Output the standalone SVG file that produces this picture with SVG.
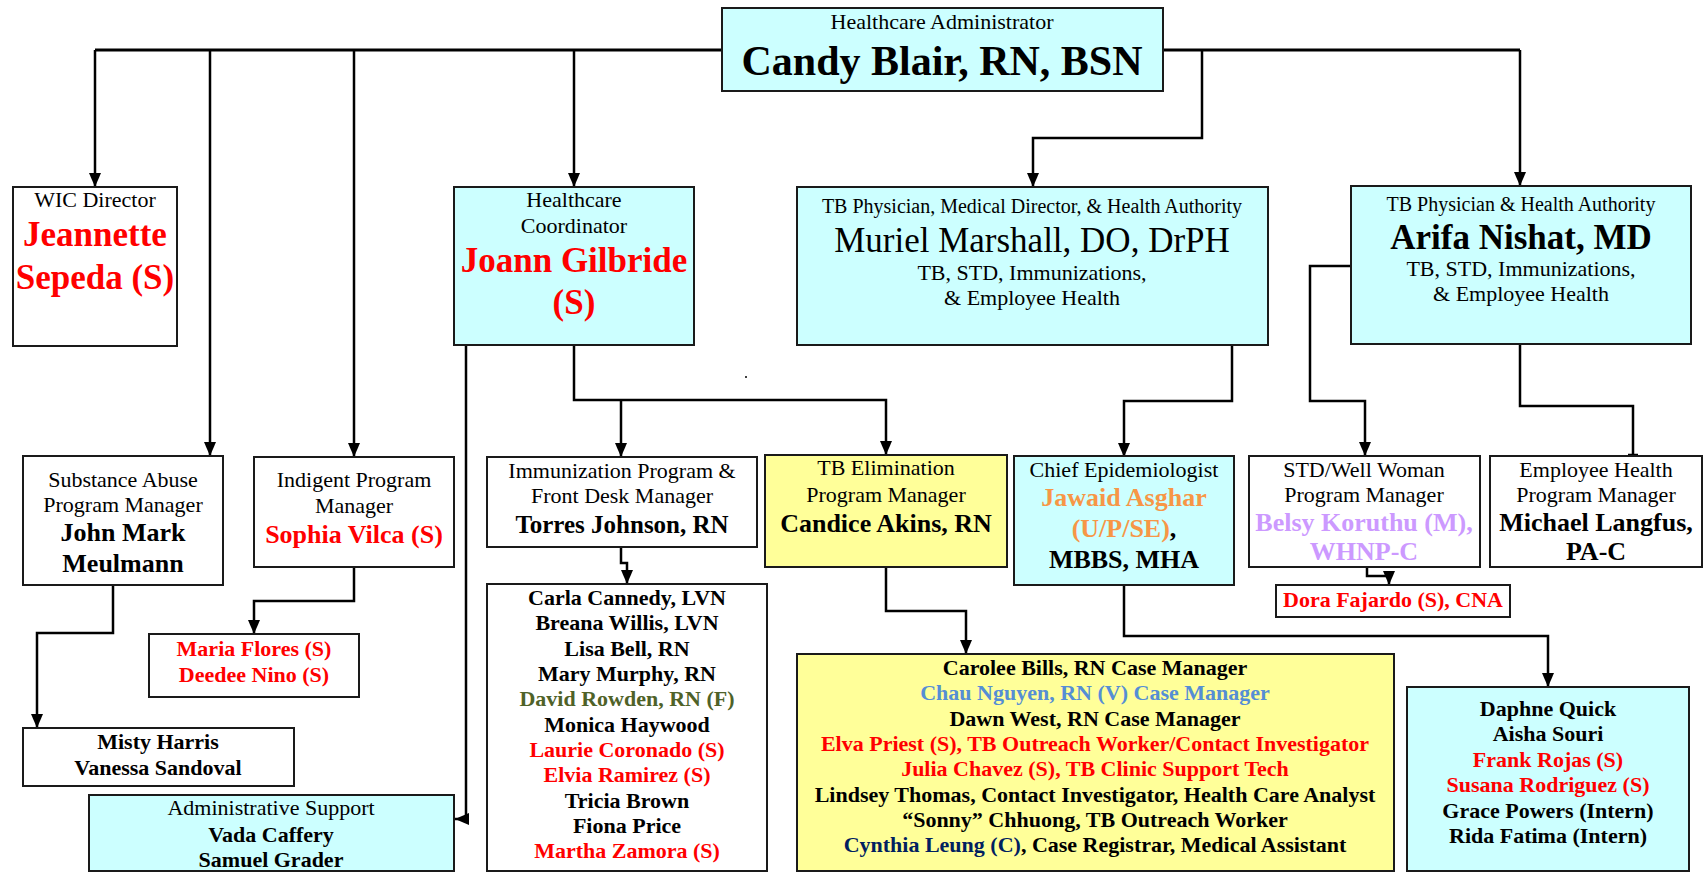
<svg xmlns="http://www.w3.org/2000/svg" width="1708" height="873" viewBox="0 0 1708 873">
<style>
.box{stroke:#1a1a1a;stroke-width:2;}
.w{fill:#ffffff;}
.c{fill:#ccffff;}
.y{fill:#ffff99;}
text{font-family:"Liberation Serif","Times New Roman",serif;text-anchor:middle;fill:#000;}
.t{font-size:22px;}
.t20{font-size:20px;}
.b{font-weight:bold;}
.b22{font-size:22px;font-weight:bold;}
.b26{font-size:26px;font-weight:bold;}
.b35{font-size:35px;font-weight:bold;}
.red{fill:#ff0000;}
.conn{fill:none;stroke:#000;stroke-width:2.5;}
</style>
<defs>
<marker id="ah" markerWidth="14" markerHeight="12" refX="14" refY="6" orient="auto" markerUnits="userSpaceOnUse"><path d="M0,0 L14,6 L0,12 z" fill="#000"/></marker>
</defs>
<rect width="1708" height="873" fill="#fff"/>

<g id="connectors">
<path class="conn" style="stroke-width:3" d="M722,50 H95"/>
<path class="conn" style="stroke-width:3" d="M1163,50 H1520"/>
<path class="conn" d="M95,50 V187" marker-end="url(#ah)"/>
<path class="conn" d="M210,50 V456" marker-end="url(#ah)"/>
<path class="conn" d="M354,50 V457" marker-end="url(#ah)"/>
<path class="conn" d="M574,50 V187" marker-end="url(#ah)"/>
<path class="conn" d="M1202,50 V138 H1033 V187" marker-end="url(#ah)"/>
<path class="conn" d="M1520,50 V186" marker-end="url(#ah)"/>
<path class="conn" d="M466,345 V819 H455" marker-end="url(#ah)"/>
<path class="conn" d="M574,345 V400 H886 V455" marker-end="url(#ah)"/>
<path class="conn" d="M621,400 V457" marker-end="url(#ah)"/>
<path class="conn" d="M621,547 V563 H627 V584" marker-end="url(#ah)"/>
<path class="conn" d="M886,567 V611 H966 V654" marker-end="url(#ah)"/>
<path class="conn" d="M1232,345 V401 H1124 V457" marker-end="url(#ah)"/>
<path class="conn" d="M1124,585 V636 H1548 V687" marker-end="url(#ah)"/>
<path class="conn" d="M1351,266 H1310 V401 H1365 V456" marker-end="url(#ah)"/>
<path class="conn" d="M1520,344 V406 H1633 V456"/>
<path class="conn" d="M1628,455 H1638"/>
<path class="conn" d="M1367,567 V576 H1389 V585" marker-end="url(#ah)"/>
<path class="conn" d="M113,585 V633 H37 V728" marker-end="url(#ah)"/>
<path class="conn" d="M354,567 V601 H254 V634" marker-end="url(#ah)"/>
<circle cx="746" cy="377" r="1" fill="#000"/>
</g>

<g id="administrator">
<rect class="box c" x="722" y="8" width="441" height="83"/>
<text class="t" x="942" y="29">Healthcare Administrator</text>
<text class="b" style="font-size:42px" x="942" y="75">Candy Blair, RN, BSN</text>
</g>

<g id="wic">
<rect class="box w" x="13" y="187" width="164" height="159"/>
<text class="t" x="95" y="207">WIC Director</text>
<text class="b35 red" x="95" y="246">Jeannette</text>
<text class="b35 red" x="95" y="289">Sepeda (S)</text>
</g>

<g id="coordinator">
<rect class="box c" x="454" y="187" width="240" height="158"/>
<text class="t" x="574" y="207">Healthcare</text>
<text class="t" x="574" y="233">Coordinator</text>
<text class="b35 red" x="574" y="272">Joann Gilbride</text>
<text class="b35 red" x="574" y="314">(S)</text>
</g>

<g id="marshall">
<rect class="box c" x="797" y="187" width="471" height="158"/>
<text class="t20" x="1032" y="213">TB Physician, Medical Director, &amp; Health Authority</text>
<text style="font-size:35px" x="1032" y="252">Muriel Marshall, DO, DrPH</text>
<text class="t" x="1032" y="280">TB, STD, Immunizations,</text>
<text class="t" x="1032" y="305">&amp; Employee Health</text>
</g>

<g id="nishat">
<rect class="box c" x="1351" y="186" width="340" height="158"/>
<text class="t20" x="1521" y="211">TB Physician &amp; Health Authority</text>
<text class="b35" x="1521" y="249">Arifa Nishat, MD</text>
<text class="t" x="1521" y="276">TB, STD, Immunizations,</text>
<text class="t" x="1521" y="301">&amp; Employee Health</text>
</g>

<g id="substance">
<rect class="box w" x="23" y="456" width="200" height="129"/>
<text class="t" x="123" y="487">Substance Abuse</text>
<text class="t" x="123" y="512">Program Manager</text>
<text class="b26" x="123" y="541">John Mark</text>
<text class="b26" x="123" y="572">Meulmann</text>
</g>

<g id="indigent">
<rect class="box w" x="254" y="457" width="200" height="110"/>
<text class="t" x="354" y="487">Indigent Program</text>
<text class="t" x="354" y="513">Manager</text>
<text class="b26 red" x="354" y="543">Sophia Vilca (S)</text>
</g>

<g id="immunization">
<rect class="box w" x="487" y="457" width="270" height="90"/>
<text class="t" x="622" y="478">Immunization Program &amp;</text>
<text class="t" x="622" y="503">Front Desk Manager</text>
<text class="b" style="font-size:25px" x="622" y="533">Torres Johnson, RN</text>
</g>

<g id="tb-elimination">
<rect class="box y" x="765" y="455" width="242" height="112"/>
<text class="t" x="886" y="475">TB Elimination</text>
<text class="t" x="886" y="502">Program Manager</text>
<text class="b26" x="886" y="532">Candice Akins, RN</text>
</g>

<g id="epidemiologist">
<rect class="box c" x="1014" y="456" width="220" height="129"/>
<text class="t" x="1124" y="477">Chief Epidemiologist</text>
<text class="b26" style="fill:#f79646" x="1124" y="506">Jawaid Asghar</text>
<text class="b26" x="1124" y="537"><tspan style="fill:#f79646">(U/P/SE)</tspan>,</text>
<text class="b26" x="1124" y="568">MBBS, MHA</text>
</g>

<g id="std">
<rect class="box w" x="1249" y="456" width="231" height="111"/>
<text class="t" x="1364" y="477">STD/Well Woman</text>
<text class="t" x="1364" y="502">Program Manager</text>
<text class="b26" style="fill:#cc99ff" x="1364" y="531">Belsy Koruthu (M),</text>
<text class="b26" style="fill:#cc99ff" x="1364" y="560">WHNP-C</text>
</g>

<g id="employee-health">
<rect class="box w" x="1490" y="456" width="212" height="111"/>
<text class="t" x="1596" y="477">Employee Health</text>
<text class="t" x="1596" y="502">Program Manager</text>
<text class="b26" x="1596" y="531">Michael Langfus,</text>
<text class="b26" x="1596" y="560">PA-C</text>
</g>

<g id="dora">
<rect class="box w" x="1276" y="585" width="234" height="32"/>
<text class="b22 red" x="1393" y="607">Dora Fajardo (S), CNA</text>
</g>

<g id="maria">
<rect class="box w" x="149" y="634" width="210" height="63"/>
<text class="b22 red" x="254" y="656">Maria Flores (S)</text>
<text class="b22 red" x="254" y="682">Deedee Nino (S)</text>
</g>

<g id="misty">
<rect class="box w" x="23" y="728" width="271" height="58"/>
<text class="b22" x="158" y="749">Misty Harris</text>
<text class="b22" x="158" y="775">Vanessa Sandoval</text>
</g>

<g id="admin-support">
<rect class="box c" x="89" y="795" width="365" height="76"/>
<text class="t" x="271" y="815">Administrative Support</text>
<text class="b22" x="271" y="842">Vada Caffery</text>
<text class="b22" x="271" y="867">Samuel Grader</text>
</g>

<g id="immunization-staff">
<rect class="box w" x="487" y="584" width="280" height="287"/>
<text class="b22" x="627" y="605">Carla Cannedy, LVN</text>
<text class="b22" x="627" y="630">Breana Willis, LVN</text>
<text class="b22" x="627" y="656">Lisa Bell, RN</text>
<text class="b22" x="627" y="681">Mary Murphy, RN</text>
<text class="b22" style="fill:#4f6228" x="627" y="706">David Rowden, RN (F)</text>
<text class="b22" x="627" y="732">Monica Haywood</text>
<text class="b22 red" x="627" y="757">Laurie Coronado (S)</text>
<text class="b22 red" x="627" y="782">Elvia Ramirez (S)</text>
<text class="b22" x="627" y="808">Tricia Brown</text>
<text class="b22" x="627" y="833">Fiona Price</text>
<text class="b22 red" x="627" y="858">Martha Zamora (S)</text>
</g>

<g id="tb-staff">
<rect class="box y" x="797" y="654" width="597" height="217"/>
<text class="b22" x="1095" y="675">Carolee Bills, RN Case Manager</text>
<text class="b22" style="fill:#558ed5" x="1095" y="700">Chau Nguyen, RN (V) Case Manager</text>
<text class="b22" x="1095" y="726">Dawn West, RN Case Manager</text>
<text class="b22 red" x="1095" y="751">Elva Priest (S), TB Outreach Worker/Contact Investigator</text>
<text class="b22 red" x="1095" y="776">Julia Chavez (S), TB Clinic Support Tech</text>
<text class="b22" x="1095" y="802">Lindsey Thomas, Contact Investigator, Health Care Analyst</text>
<text class="b22" x="1095" y="827">“Sonny” Chhuong, TB Outreach Worker</text>
<text class="b22" x="1095" y="852"><tspan style="fill:#002060">Cynthia Leung (C)</tspan>, Case Registrar, Medical Assistant</text>
</g>

<g id="epi-staff">
<rect class="box c" x="1407" y="687" width="282" height="184"/>
<text class="b22" x="1548" y="716">Daphne Quick</text>
<text class="b22" x="1548" y="741">Aisha Souri</text>
<text class="b22 red" x="1548" y="767">Frank Rojas (S)</text>
<text class="b22 red" x="1548" y="792">Susana Rodriguez (S)</text>
<text class="b22" x="1548" y="818">Grace Powers (Intern)</text>
<text class="b22" x="1548" y="843">Rida Fatima (Intern)</text>
</g>
</svg>
